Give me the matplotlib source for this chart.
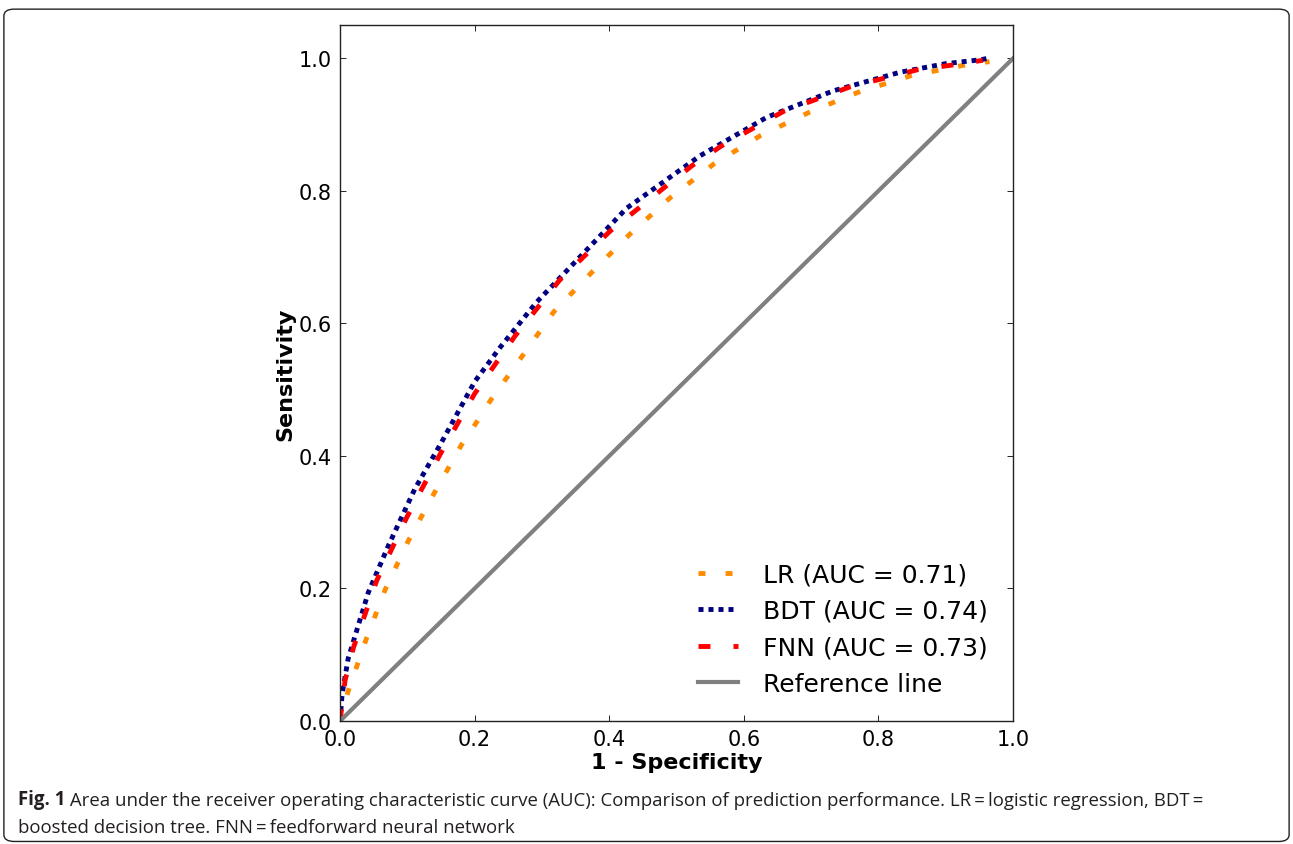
import matplotlib
matplotlib.use("Agg")
import matplotlib.pyplot as plt
from matplotlib.patches import FancyBboxPatch

plt.rcParams['lines.scale_dashes'] = False

# ROC curves (1 - specificity, sensitivity)
lr_fpr = [0, 0.0114, 0.038, 0.0669, 0.1015, 0.140, 0.180, 0.203, 0.223, 0.247, 0.271,
          0.318, 0.374, 0.431, 0.491, 0.556, 0.624, 0.698, 0.773, 0.849, 0.929, 0.965]
lr_tpr = [0, 0.043, 0.121, 0.198, 0.272, 0.344, 0.416, 0.451, 0.483, 0.517, 0.551,
          0.618, 0.677, 0.735, 0.790, 0.841, 0.883, 0.919, 0.950, 0.974, 0.990, 0.995]

bdt_fpr = [0, 0.003, 0.012, 0.042, 0.072, 0.111, 0.151, 0.200, 0.238, 0.292, 0.359,
           0.426, 0.495, 0.535, 0.634, 0.733, 0.832, 0.900, 0.953, 0.962]
bdt_tpr = [0, 0.040, 0.094, 0.194, 0.265, 0.350, 0.421, 0.512, 0.564, 0.632, 0.703,
           0.774, 0.824, 0.853, 0.911, 0.951, 0.979, 0.992, 0.998, 1.0]

fnn_fpr = [0, 0.0074, 0.020, 0.0545, 0.099, 0.149, 0.200, 0.260, 0.326, 0.401, 0.483,
           0.523, 0.567, 0.659, 0.758, 0.859, 0.911, 0.955]
fnn_tpr = [0, 0.061, 0.111, 0.212, 0.307, 0.403, 0.494, 0.581, 0.665, 0.739, 0.806,
           0.838, 0.868, 0.920, 0.957, 0.983, 0.990, 0.997]

labels = ["LR (AUC = 0.71)", "BDT (AUC = 0.74)", "FNN (AUC = 0.73)", "Reference line"]
ticks = [0.0, 0.2, 0.4, 0.6, 0.8, 1.0]

fig = plt.figure(figsize=(12.93, 8.45), dpi=100)
ax = fig.add_axes([0.263, 0.1456, 0.5205, 0.8234])

ax.plot(lr_fpr, lr_tpr, color='darkorange', lw=3.5, linestyle=(0, (5, 14.5)), label=labels[0])
ax.plot(bdt_fpr, bdt_tpr, color='navy', lw=3.5, linestyle=(0, (3.6, 3.6)), label=labels[1])
ax.plot(fnn_fpr, fnn_tpr, color='red', lw=3.5, linestyle=(0, (8.6, 16.6)), label=labels[2])
ax.plot([0, 1], [0, 1], color='gray', lw=3, label=labels[3])

ax.set_xlim(0, 1)
ax.set_ylim(0, 1.05)
ax.set_xticks(ticks)
ax.set_yticks(ticks)
ax.tick_params(direction='in', top=True, right=True, length=4, width=0.6, labelsize=15, pad=6)
for s in ax.spines.values():
    s.set_linewidth(1.0)
    s.set_color('#222222')

ax.set_xlabel("1 - Specificity", fontsize=16, fontweight='bold', labelpad=2)
ax.set_ylabel("Sensitivity", fontsize=16, fontweight='bold', labelpad=2)
ax.legend(loc='lower right', frameon=False, fontsize=18, handlelength=1.6,
          handletextpad=1.0, borderaxespad=0.6)

# caption and frame of the figure panel
border = FancyBboxPatch((0.003, 0.003), 0.994, 0.985, boxstyle="round,pad=0,rounding_size=0.008",
                        transform=fig.transFigure, facecolor='none', edgecolor='#222222', lw=1.0)
fig.patches.append(border)

cap_font = "Open Sans"
cap_size = 13.4
t1 = fig.text(0.0139, 0.047, "Fig. 1", fontsize=cap_size, fontweight='bold',
              family=cap_font, color='#231f20', va='baseline')
ax.annotate(" Area under the receiver operating characteristic curve (AUC): Comparison of prediction "
            "performance. LR\u2009=\u2009logistic regression, BDT\u2009=",
            xy=(1, 0), xycoords=t1, va='bottom', ha='left', fontsize=cap_size,
            family=cap_font, color='#231f20', annotation_clip=False)
fig.text(0.0139, 0.014, "boosted decision tree. FNN\u2009=\u2009feedforward neural network",
         fontsize=cap_size, family=cap_font, color='#231f20', va='baseline')

fig.savefig("out.png", dpi=100)
